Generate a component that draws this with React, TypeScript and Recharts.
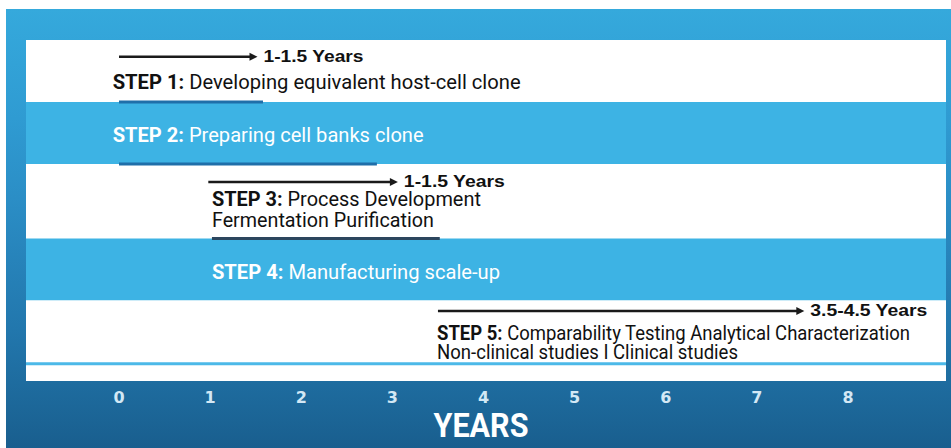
import React from 'react';
import { ScatterChart, Scatter, XAxis, YAxis, ReferenceArea, ReferenceLine } from 'recharts';

// ---- data ----
const stepTitles = ['STEP 1:', 'STEP 2:', 'STEP 3:', 'STEP 4:', 'STEP 5:'];
const stepDescriptions: string[][] = [
  ['Developing equivalent host-cell clone'],
  ['Preparing cell banks clone'],
  ['Process Development', 'Fermentation Purification'],
  ['Manufacturing scale-up'],
  ['Comparability Testing Analytical Characterization', 'Non-clinical studies I Clinical studies'],
];
const labelStartYear = [-0.07, -0.07, 1.02, 1.02, 3.49];
const arrowStartYear: (number | null)[] = [0, null, 0.98, null, 3.5];
const arrowEndYear: (number | null)[] = [1.52, null, 3.06, null, 7.52];
const arrowLabels: (string | null)[] = ['1-1.5 Years', null, '1-1.5 Years', null, '3.5-4.5 Years'];
const barStartYear: (number | null)[] = [0, 0, 1.02, null, null];
const barEndYear: (number | null)[] = [1.58, 2.83, 3.52, null, null];
const yearTicks = [0, 1, 2, 3, 4, 5, 6, 7, 8];

// ---- layout / style ----
const ROW_SPAN = [1, 1, 1.2, 1, 1];
const ROW_START = ROW_SPAN.map((_, i) => ROW_SPAN.slice(0, i).reduce((a, b) => a + b, 0));
const ROW_END = ROW_START.map((s, i) => s + ROW_SPAN[i]);
const Y_MAX = 5.5;
const BAND_FILL = ['#ffffff', '#3db3e4', '#ffffff', '#3db3e4', '#ffffff'];
const TEXT_FILL = ['#111111', '#ffffff', '#111111', '#ffffff', '#111111'];
const TEXT_BASELINE_PX = [[49], [40], [42, 63], [41], [40, 59]];
const TEXT_LENGTH = [[408], [311], [269, 222], [288], [473, 301]];
const ARROW_ROW_OFFSET = [0.27, 0, 0.29, 0, 0.17];
const ARROW_LABEL_LEN = [100, 0, 101, 0, 117];
const BAR_COLOR = ['#1f6fa9', '#1f6fa9', '#2c465e', '', ''];
const FONT_NARROW = 'Roboto, "Liberation Sans Narrow", "Liberation Sans", Arial, sans-serif';
const FONT_BOLD = '"Liberation Sans", Arial, sans-serif';

const labelData = stepTitles.map((t, i) => ({ x: labelStartYear[i], y: ROW_START[i], i }));

const StepText = (props: any) => {
  const { cx, cy, payload } = props;
  const i = payload.i;
  return (
    <g>
      {stepDescriptions[i].map((line, li) => (
        <text
          key={li}
          x={cx}
          y={cy + TEXT_BASELINE_PX[i][li]}
          fill={TEXT_FILL[i]}
          fontFamily={FONT_NARROW}
          fontSize={21}
          textLength={TEXT_LENGTH[i][li]}
          lengthAdjust="spacingAndGlyphs"
        >
          {li === 0 ? (
            <>
              <tspan fontWeight="bold">{stepTitles[i]}</tspan>
              <tspan> {line}</tspan>
            </>
          ) : (
            line
          )}
        </text>
      ))}
    </g>
  );
};

const makeArrow = (i: number) => (p: any) => {
  const { x1, y1, x2 } = p;
  const head = 8;
  return (
    <g>
      <line x1={x1} y1={y1} x2={x2 - head + 1} y2={y1} stroke="#1a1a1a" strokeWidth={2.4} />
      <polygon points={`${x2},${y1} ${x2 - head},${y1 - 4} ${x2 - head},${y1 + 4}`} fill="#1a1a1a" />
      <text
        x={x2 + 6}
        y={y1 + 5}
        fontFamily={FONT_BOLD}
        fontWeight="bold"
        fontSize={17}
        fill="#111111"
        textLength={ARROW_LABEL_LEN[i]}
        lengthAdjust="spacingAndGlyphs"
      >
        {arrowLabels[i]}
      </text>
    </g>
  );
};

const YearTick = (props: any) => {
  const { x, y, payload } = props;
  return (
    <text
      x={x}
      y={y + 22}
      textAnchor="middle"
      fill="#d3e8f5"
      fontFamily='"DejaVu Sans", sans-serif'
      fontWeight="bold"
      fontSize={16}
    >
      {payload.value}
    </text>
  );
};

const YearsLabel = (props: any) => {
  const vb = props.viewBox || {};
  return (
    <text
      x={vb.x + vb.width / 2 - 5}
      y={vb.y + 56}
      textAnchor="middle"
      fill="#ffffff"
      fontFamily={FONT_NARROW}
      fontWeight="bold"
      fontSize={33}
      textLength={95}
      lengthAdjust="spacingAndGlyphs"
    >
      YEARS
    </text>
  );
};

export default function App() {
  return (
    <div style={{ position: 'absolute', left: 0, top: 0, width: 951, height: 448, background: '#ffffff' }}>
      <div
        style={{
          position: 'absolute',
          left: 6,
          top: 9,
          width: 945,
          height: 439,
          background:
            'linear-gradient(to bottom, #35a9dc 0%, #2f9bd2 25%, #2b8ec6 43%, #2277ad 73%, #1b6495 94%, #195e8e 100%)',
        }}
      />
      <div style={{ position: 'absolute', left: 0, top: 0 }}>
        <ScatterChart width={951} height={448} margin={{ top: 40, right: 5, bottom: 7, left: 26 }}>
          <XAxis
            type="number"
            dataKey="x"
            domain={[-1.0206, 9.075]}
            ticks={yearTicks}
            allowDataOverflow
            axisLine={false}
            tickLine={false}
            tickSize={0}
            tickMargin={0}
            height={60}
            interval={0}
            tick={<YearTick />}
            label={{ content: YearsLabel }}
          />
          <YAxis type="number" dataKey="y" domain={[0, Y_MAX]} reversed hide allowDataOverflow />
          <ReferenceArea y1={0} y2={Y_MAX} fill="#ffffff" fillOpacity={1} stroke="none" />
          {ROW_START.map((s, i) => (
            <ReferenceArea key={`band${i}`} y1={s} y2={ROW_END[i]} fill={BAND_FILL[i]} fillOpacity={1} stroke="none" />
          ))}
          <ReferenceLine y={5.22} stroke="#4cb9e8" strokeWidth={3} />
          {barStartYear.map((s, i) =>
            s === null || barEndYear[i] === null ? null : (
              <ReferenceLine
                key={`bar${i}`}
                segment={[
                  { x: s, y: ROW_END[i] },
                  { x: barEndYear[i] as number, y: ROW_END[i] },
                ]}
                stroke={BAR_COLOR[i]}
                strokeWidth={3}
              />
            )
          )}
          {arrowStartYear.map((s, i) =>
            s === null || arrowEndYear[i] === null ? null : (
              <ReferenceLine
                key={`arrow${i}`}
                segment={[
                  { x: s, y: ROW_START[i] + ARROW_ROW_OFFSET[i] },
                  { x: arrowEndYear[i] as number, y: ROW_START[i] + ARROW_ROW_OFFSET[i] },
                ]}
                shape={makeArrow(i)}
              />
            )
          )}
          <Scatter data={labelData} isAnimationActive={false} shape={<StepText />} />
        </ScatterChart>
      </div>
    </div>
  );
}
